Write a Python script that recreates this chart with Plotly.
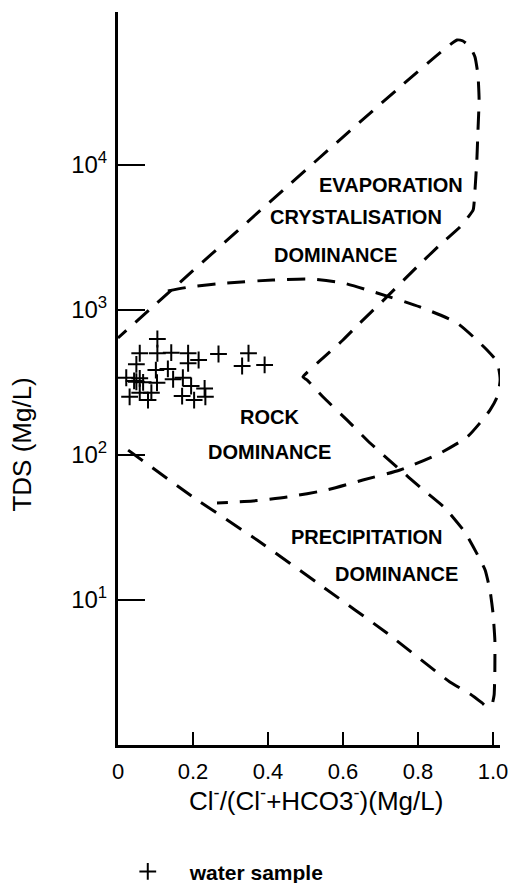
import math
import plotly.graph_objects as go

# ---- data ----
# water samples: Cl/(Cl+HCO3) ratio and TDS (mg/L)
sample_ratio = [0.105, 0.058, 0.105, 0.142, 0.187, 0.268, 0.348, 0.215, 0.187, 0.049,
                0.331, 0.391, 0.101, 0.133, 0.022, 0.058, 0.049, 0.067, 0.147, 0.173,
                0.104, 0.195, 0.231, 0.031, 0.058, 0.089, 0.080, 0.171, 0.203, 0.233,
                0.043]
sample_tds = [631, 503, 503, 508, 503, 497, 503, 452, 429, 422,
              411, 418, 385, 392, 341, 338, 320, 317, 333, 341,
              315, 299, 288, 252, 269, 269, 239, 255, 239, 252,
              324]

# outer Gibbs boundary (precipitation -> evaporation)
outer_ratio = [0.027, 0.200, 0.371, 0.547, 0.717, 0.885, 0.939, 0.971, 0.984, 0.997,
               1.003, 1.005, 1.005, 1.000, 0.992, 0.979, 0.955, 0.925, 0.872, 0.805,
               0.744, 0.672, 0.611, 0.547, 0.504, 0.493, 0.547, 0.600, 0.645, 0.717,
               0.797, 0.864, 0.912, 0.947, 0.952, 0.957, 0.960, 0.963, 0.960, 0.952,
               0.939, 0.920, 0.904, 0.000]
outer_tds = [108, 51.3, 25.9, 12.3, 5.92, 2.72, 2.25, 1.95, 1.83, 1.89,
             2.21, 3.29, 5.30, 8.14, 11.7, 16.1, 21.4, 29.4, 43.1, 60.1,
             82.6, 121, 174, 251, 329, 345, 467, 621, 813, 1230,
             1981, 2897, 3736, 4893, 6724, 10820, 17430, 28060, 41770, 55590,
             65130, 71610, 72780, 641]

# rock dominance envelope
rock_ratio = [0.133, 0.192, 0.291, 0.413, 0.512, 0.600, 0.691, 0.805, 0.904, 0.984,
              1.011, 1.019, 1.011, 0.992, 0.965, 0.931, 0.859, 0.752, 0.653, 0.557,
              0.451, 0.360, 0.264]
rock_tds = [1352, 1442, 1536, 1610, 1636, 1536, 1310, 1049, 813, 530,
            438, 329, 251, 204, 166, 133, 103, 78.8, 67.2, 57.4,
            51.3, 48.2, 46.7]

x_tickvals = [0, 0.2, 0.4, 0.6, 0.8, 1.0]
x_ticktext = ["0", "0.2", "0.4", "0.6", "0.8", "1.0"]
y_tickvals = [10, 100, 1000, 10000]
y_ticktext = ["10<sup>1</sup>", "10<sup>2</sup>", "10<sup>3</sup>", "10<sup>4</sup>"]

region_labels = ["EVAPORATION", "CRYSTALISATION", "DOMINANCE", "ROCK", "DOMINANCE",
                 "PRECIPITATION", "DOMINANCE"]
region_label_ratio = [0.728, 0.635, 0.579, 0.405, 0.405, 0.664, 0.744]
region_label_tds = [7280, 4375, 2393, 183, 105, 27.2, 15.1]

FONT = "Liberation Sans, Arial, sans-serif"
DASH = "18px,12px"

fig = go.Figure()
fig.add_trace(go.Scatter(x=outer_ratio, y=outer_tds, mode="lines",
                         line=dict(color="black", width=3, dash=DASH, shape="spline", smoothing=0.4),
                         showlegend=False, hoverinfo="skip"))
fig.add_trace(go.Scatter(x=rock_ratio, y=rock_tds, mode="lines",
                         line=dict(color="black", width=3, dash=DASH, shape="spline", smoothing=0.6),
                         showlegend=False, hoverinfo="skip"))
fig.add_trace(go.Scatter(x=sample_ratio, y=sample_tds, mode="markers", name="<b>water sample</b>",
                         marker=dict(symbol="cross-thin", size=12, line=dict(color="black", width=2),
                                     color="black")))

for t, xr, yt in zip(region_labels, region_label_ratio, region_label_tds):
    fig.add_annotation(x=xr, y=math.log10(yt), text="<b>%s</b>" % t, showarrow=False,
                       font=dict(family=FONT, size=20, color="black"),
                       xanchor="center", yanchor="middle")

fig.add_annotation(xref="paper", yref="paper", x=0.518, y=-0.075,
                   text="Cl<sup>-</sup>/(Cl<sup>-</sup>+HCO3<sup>-</sup>)(Mg/L)",
                   showarrow=False, font=dict(family=FONT, size=26, color="black"),
                   xanchor="center", yanchor="middle")
fig.add_annotation(xref="paper", yref="paper", x=-0.251, y=0.41, text="TDS (Mg/L)",
                   textangle=-90, showarrow=False,
                   font=dict(family=FONT, size=26, color="black"),
                   xanchor="center", yanchor="middle")

fig.update_xaxes(range=[0, 1.0187], showline=True, linewidth=3, linecolor="black",
                 ticks="inside", ticklen=13, tickwidth=1.5, tickcolor="black",
                 tickvals=x_tickvals, ticktext=x_ticktext, showgrid=False, zeroline=False,
                 ticklabelstandoff=5, ticklabeloverflow="allow",
                 tickfont=dict(family=FONT, size=22, color="black"), mirror=False)
fig.update_yaxes(type="log", range=[0, 5.055], showline=True, linewidth=3, linecolor="black",
                 ticks="inside", ticklen=27, tickwidth=1.5, tickcolor="black",
                 tickvals=y_tickvals, ticktext=y_ticktext, showgrid=False, zeroline=False,
                 ticklabelstandoff=3, ticklabeloverflow="allow",
                 tickfont=dict(family=FONT, size=24, color="black"), mirror=False)

fig.update_layout(width=508, height=883,
                  margin=dict(l=118, r=8, t=12, b=138, autoexpand=False),
                  paper_bgcolor="white", plot_bgcolor="white",
                  font=dict(family=FONT, color="black"),
                  legend=dict(orientation="h", x=-0.032, y=-0.173, xanchor="left", yanchor="middle",
                              itemwidth=74, font=dict(family=FONT, size=21, color="black"),
                              bgcolor="rgba(0,0,0,0)"))

# remove the default page margin so the 508x883 figure fills the window exactly
fig.write_html("out.html", config={"displayModeBar": False},
               post_script="document.body.style.margin='0';document.body.style.overflow='hidden';")
